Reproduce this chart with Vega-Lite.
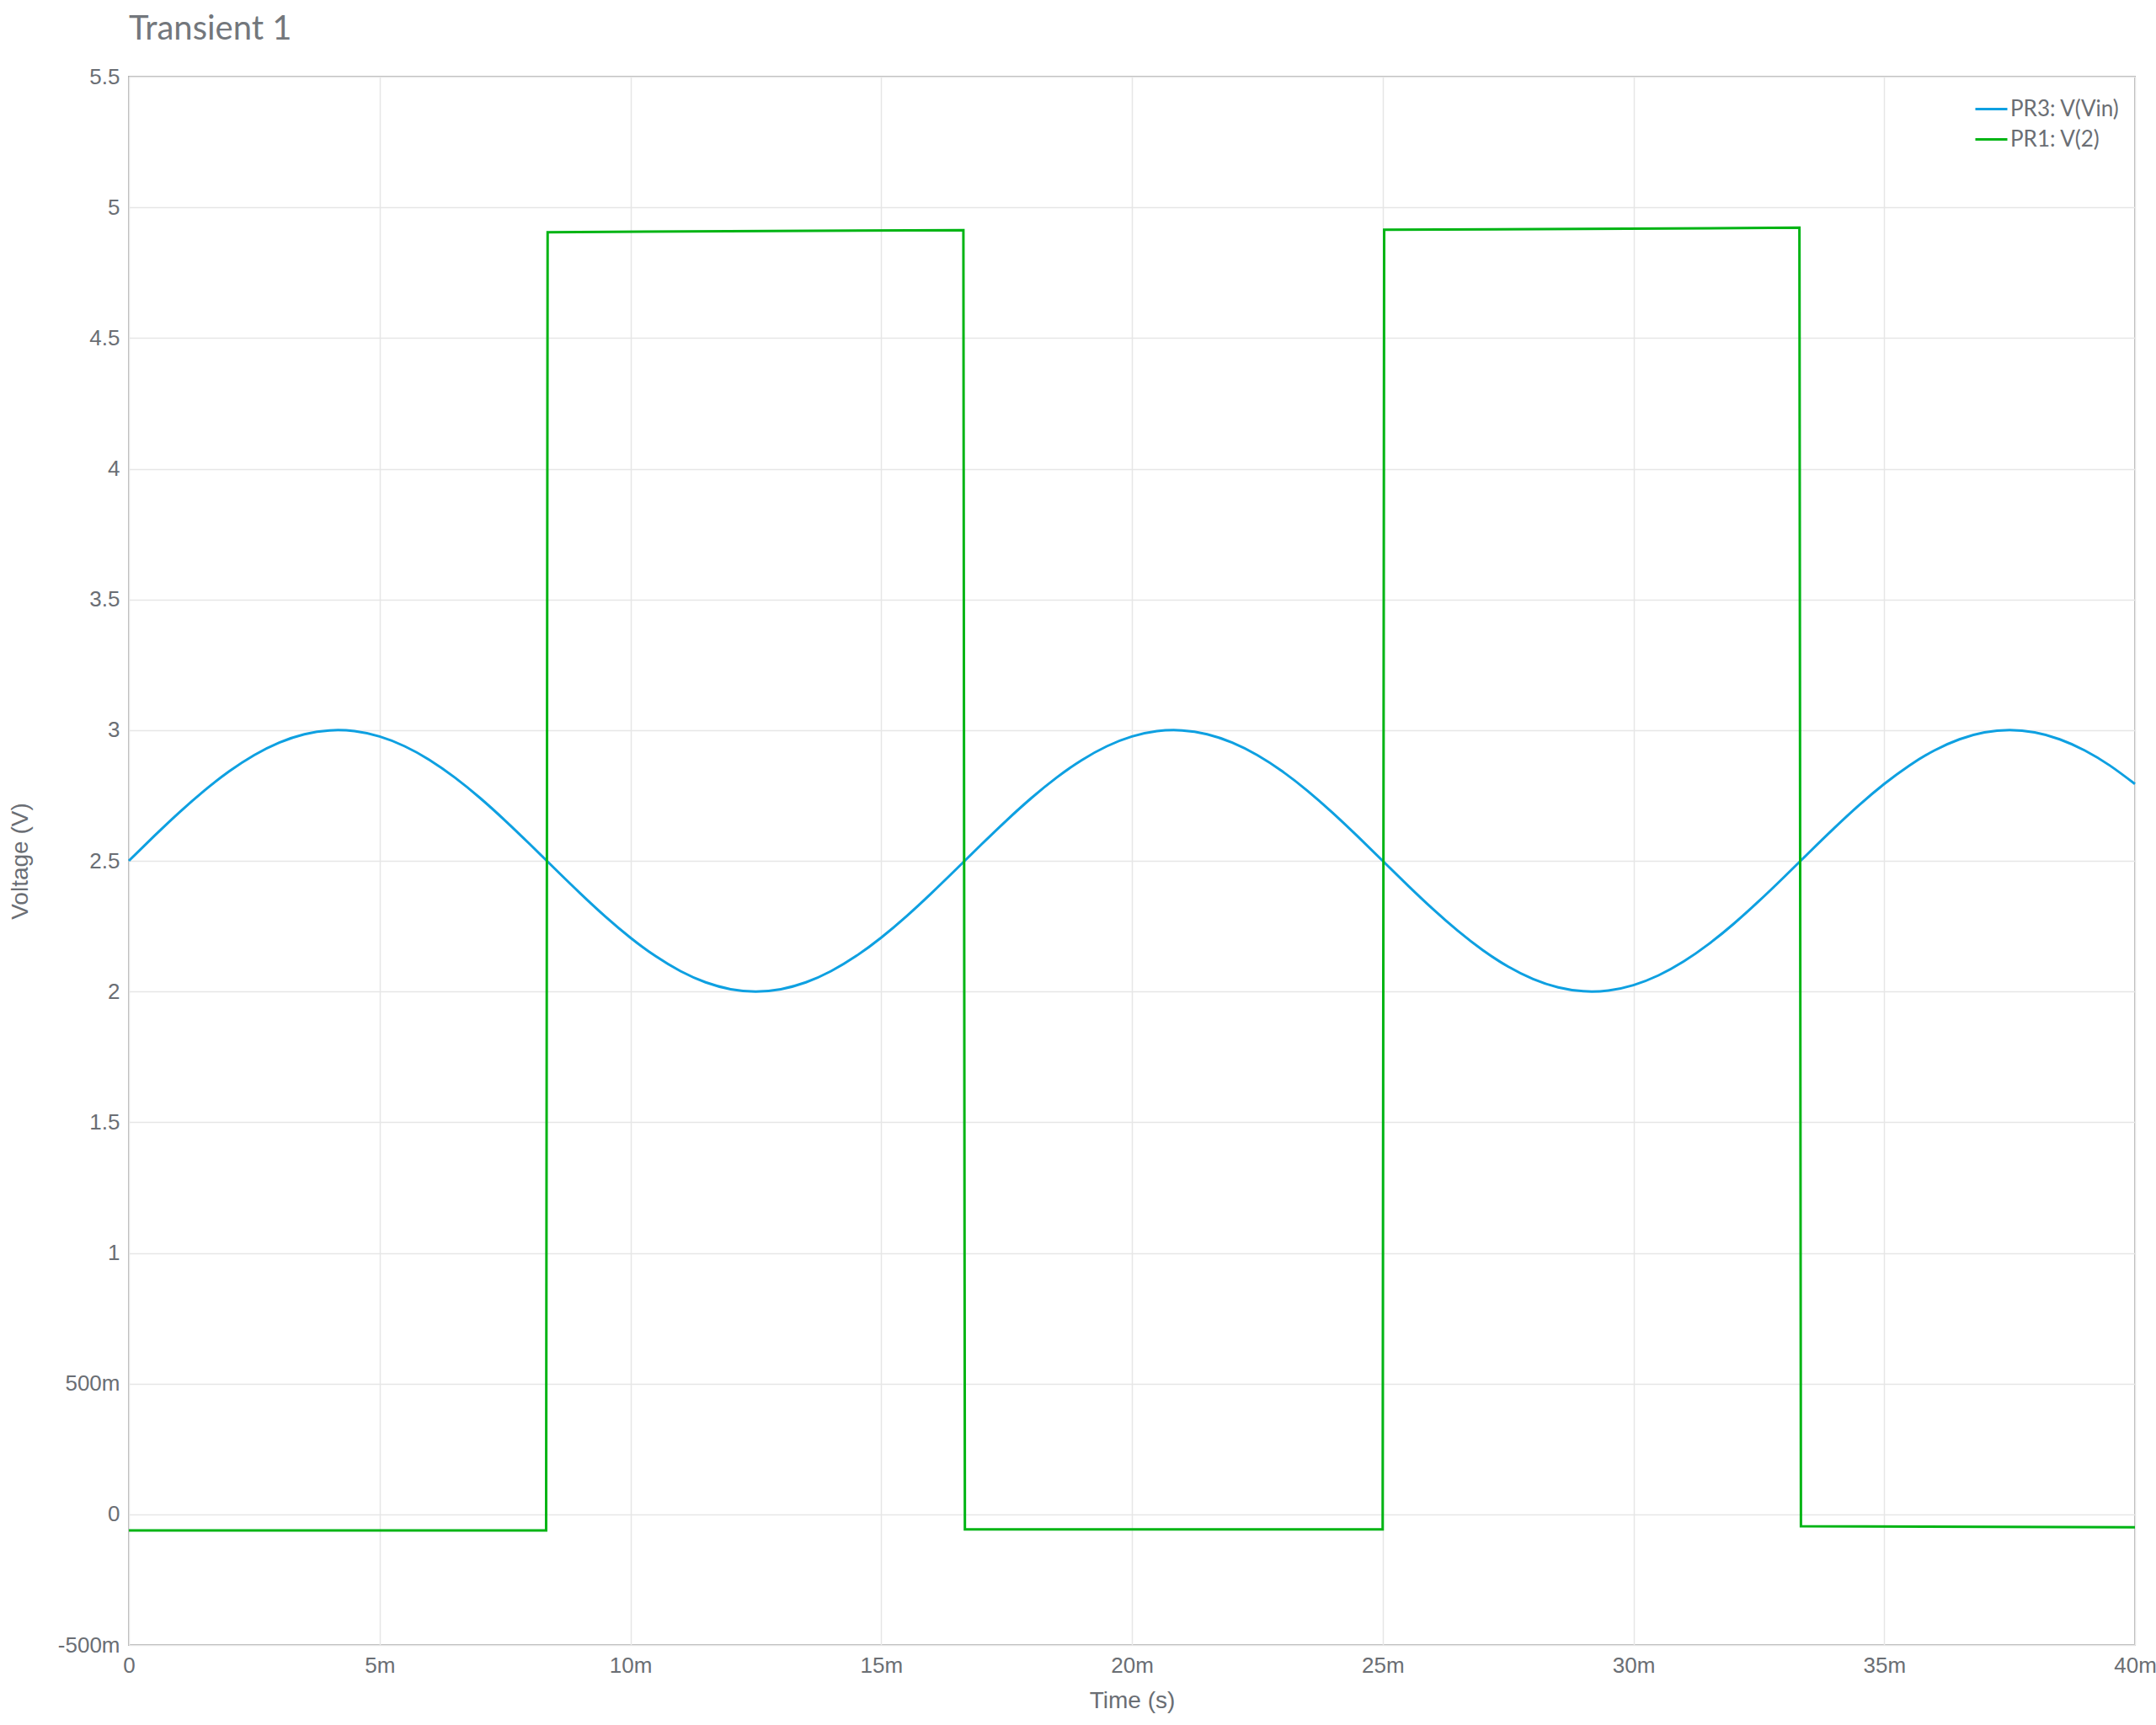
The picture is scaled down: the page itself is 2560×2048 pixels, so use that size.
{
  "$schema": "https://vega.github.io/schema/vega-lite/v6.json",
  "autosize": "none",
  "width": 2382,
  "height": 1862,
  "padding": {"left": 153, "top": 91, "right": 25, "bottom": 95},
  "background": "white",
  "title": {
    "text": "Transient 1",
    "anchor": "start",
    "frame": "group",
    "font": "Lato",
    "fontSize": 40,
    "fontWeight": "normal",
    "color": "#73777c",
    "baseline": "bottom",
    "offset": 0,
    "dy": 17
  },
  "config": {
    "view": {"stroke": "#b3b3b3", "strokeWidth": 2},
    "axis": {
      "domain": false,
      "ticks": false,
      "grid": true,
      "gridColor": "#e6e6e6",
      "gridWidth": 1.5,
      "labelFont": "Liberation Sans",
      "labelFontSize": 26,
      "labelColor": "#6a6e74",
      "titleFont": "Liberation Sans",
      "titleFontSize": 28,
      "titleFontWeight": "normal",
      "titleColor": "#6a6e74"
    },
    "legend": {
      "labelFont": "Lato",
      "labelFontSize": 26,
      "labelColor": "#6a6e74"
    }
  },
  "datasets": {
    "vin": [
      {"series": "PR3: V(Vin)", "t": 0, "v": 2.5},
      {"series": "PR3: V(Vin)", "t": 0.5, "v": 2.5937},
      {"series": "PR3: V(Vin)", "t": 1, "v": 2.6841},
      {"series": "PR3: V(Vin)", "t": 1.5, "v": 2.7679},
      {"series": "PR3: V(Vin)", "t": 2, "v": 2.8423},
      {"series": "PR3: V(Vin)", "t": 2.5, "v": 2.9045},
      {"series": "PR3: V(Vin)", "t": 3, "v": 2.9524},
      {"series": "PR3: V(Vin)", "t": 3.5, "v": 2.9843},
      {"series": "PR3: V(Vin)", "t": 4, "v": 2.999},
      {"series": "PR3: V(Vin)", "t": 4.5, "v": 2.9961},
      {"series": "PR3: V(Vin)", "t": 5, "v": 2.9755},
      {"series": "PR3: V(Vin)", "t": 5.5, "v": 2.9382},
      {"series": "PR3: V(Vin)", "t": 6, "v": 2.8853},
      {"series": "PR3: V(Vin)", "t": 6.5, "v": 2.8187},
      {"series": "PR3: V(Vin)", "t": 7, "v": 2.7409},
      {"series": "PR3: V(Vin)", "t": 7.5, "v": 2.6545},
      {"series": "PR3: V(Vin)", "t": 8, "v": 2.5627},
      {"series": "PR3: V(Vin)", "t": 8.5, "v": 2.4686},
      {"series": "PR3: V(Vin)", "t": 9, "v": 2.3757},
      {"series": "PR3: V(Vin)", "t": 9.5, "v": 2.2871},
      {"series": "PR3: V(Vin)", "t": 10, "v": 2.2061},
      {"series": "PR3: V(Vin)", "t": 10.5, "v": 2.1355},
      {"series": "PR3: V(Vin)", "t": 11, "v": 2.0778},
      {"series": "PR3: V(Vin)", "t": 11.5, "v": 2.0351},
      {"series": "PR3: V(Vin)", "t": 12, "v": 2.0089},
      {"series": "PR3: V(Vin)", "t": 12.5, "v": 2.0},
      {"series": "PR3: V(Vin)", "t": 13, "v": 2.0089},
      {"series": "PR3: V(Vin)", "t": 13.5, "v": 2.0351},
      {"series": "PR3: V(Vin)", "t": 14, "v": 2.0778},
      {"series": "PR3: V(Vin)", "t": 14.5, "v": 2.1355},
      {"series": "PR3: V(Vin)", "t": 15, "v": 2.2061},
      {"series": "PR3: V(Vin)", "t": 15.5, "v": 2.2871},
      {"series": "PR3: V(Vin)", "t": 16, "v": 2.3757},
      {"series": "PR3: V(Vin)", "t": 16.5, "v": 2.4686},
      {"series": "PR3: V(Vin)", "t": 17, "v": 2.5627},
      {"series": "PR3: V(Vin)", "t": 17.5, "v": 2.6545},
      {"series": "PR3: V(Vin)", "t": 18, "v": 2.7409},
      {"series": "PR3: V(Vin)", "t": 18.5, "v": 2.8187},
      {"series": "PR3: V(Vin)", "t": 19, "v": 2.8853},
      {"series": "PR3: V(Vin)", "t": 19.5, "v": 2.9382},
      {"series": "PR3: V(Vin)", "t": 20, "v": 2.9755},
      {"series": "PR3: V(Vin)", "t": 20.5, "v": 2.9961},
      {"series": "PR3: V(Vin)", "t": 21, "v": 2.999},
      {"series": "PR3: V(Vin)", "t": 21.5, "v": 2.9843},
      {"series": "PR3: V(Vin)", "t": 22, "v": 2.9524},
      {"series": "PR3: V(Vin)", "t": 22.5, "v": 2.9045},
      {"series": "PR3: V(Vin)", "t": 23, "v": 2.8423},
      {"series": "PR3: V(Vin)", "t": 23.5, "v": 2.7679},
      {"series": "PR3: V(Vin)", "t": 24, "v": 2.6841},
      {"series": "PR3: V(Vin)", "t": 24.5, "v": 2.5937},
      {"series": "PR3: V(Vin)", "t": 25, "v": 2.5},
      {"series": "PR3: V(Vin)", "t": 25.5, "v": 2.4063},
      {"series": "PR3: V(Vin)", "t": 26, "v": 2.3159},
      {"series": "PR3: V(Vin)", "t": 26.5, "v": 2.2321},
      {"series": "PR3: V(Vin)", "t": 27, "v": 2.1577},
      {"series": "PR3: V(Vin)", "t": 27.5, "v": 2.0955},
      {"series": "PR3: V(Vin)", "t": 28, "v": 2.0476},
      {"series": "PR3: V(Vin)", "t": 28.5, "v": 2.0157},
      {"series": "PR3: V(Vin)", "t": 29, "v": 2.001},
      {"series": "PR3: V(Vin)", "t": 29.5, "v": 2.0039},
      {"series": "PR3: V(Vin)", "t": 30, "v": 2.0245},
      {"series": "PR3: V(Vin)", "t": 30.5, "v": 2.0618},
      {"series": "PR3: V(Vin)", "t": 31, "v": 2.1147},
      {"series": "PR3: V(Vin)", "t": 31.5, "v": 2.1813},
      {"series": "PR3: V(Vin)", "t": 32, "v": 2.2591},
      {"series": "PR3: V(Vin)", "t": 32.5, "v": 2.3455},
      {"series": "PR3: V(Vin)", "t": 33, "v": 2.4373},
      {"series": "PR3: V(Vin)", "t": 33.5, "v": 2.5314},
      {"series": "PR3: V(Vin)", "t": 34, "v": 2.6243},
      {"series": "PR3: V(Vin)", "t": 34.5, "v": 2.7129},
      {"series": "PR3: V(Vin)", "t": 35, "v": 2.7939},
      {"series": "PR3: V(Vin)", "t": 35.5, "v": 2.8645},
      {"series": "PR3: V(Vin)", "t": 36, "v": 2.9222},
      {"series": "PR3: V(Vin)", "t": 36.5, "v": 2.9649},
      {"series": "PR3: V(Vin)", "t": 37, "v": 2.9911},
      {"series": "PR3: V(Vin)", "t": 37.5, "v": 3.0},
      {"series": "PR3: V(Vin)", "t": 38, "v": 2.9911},
      {"series": "PR3: V(Vin)", "t": 38.5, "v": 2.9649},
      {"series": "PR3: V(Vin)", "t": 39, "v": 2.9222},
      {"series": "PR3: V(Vin)", "t": 39.5, "v": 2.8645},
      {"series": "PR3: V(Vin)", "t": 40, "v": 2.7939}
    ],
    "v2": [
      {"series": "PR1: V(2)", "t": 0, "v": -0.062},
      {"series": "PR1: V(2)", "t": 8.32, "v": -0.062},
      {"series": "PR1: V(2)", "t": 8.35, "v": 4.905},
      {"series": "PR1: V(2)", "t": 16.64, "v": 4.913},
      {"series": "PR1: V(2)", "t": 16.67, "v": -0.058},
      {"series": "PR1: V(2)", "t": 25.0, "v": -0.058},
      {"series": "PR1: V(2)", "t": 25.03, "v": 4.914},
      {"series": "PR1: V(2)", "t": 33.31, "v": 4.922},
      {"series": "PR1: V(2)", "t": 33.34, "v": -0.046},
      {"series": "PR1: V(2)", "t": 40, "v": -0.05}
    ]
  },
  "encoding": {
    "x": {
      "field": "t",
      "type": "quantitative",
      "scale": {"domain": [0, 40], "nice": false, "zero": false},
      "axis": {
        "title": "Time (s)",
        "values": [0, 5, 10, 15, 20, 25, 30, 35, 40],
        "labelExpr": "datum.value == 0 ? '0' : datum.value + 'm'",
        "labelPadding": 11,
        "labelFlush": false,
        "titleX": 1191,
        "titleY": 66,
        "titleBaseline": "middle",
        "titleAlign": "center"
      }
    },
    "y": {
      "field": "v",
      "type": "quantitative",
      "scale": {"domain": [-0.5, 5.5], "nice": false, "zero": false},
      "axis": {
        "title": "Voltage (V)",
        "values": [-0.5, 0, 0.5, 1, 1.5, 2, 2.5, 3, 3.5, 4, 4.5, 5, 5.5],
        "labelExpr": "datum.value == 0 ? '0' : (datum.value == 0.5 ? '500m' : (datum.value == -0.5 ? '-500m' : '' + datum.value))",
        "labelPadding": 11,
        "labelFlush": false,
        "titleX": -129,
        "titleY": 931,
        "titleAngle": 270,
        "titleBaseline": "middle",
        "titleAlign": "center"
      }
    },
    "color": {
      "field": "series",
      "type": "nominal",
      "scale": {
        "domain": ["PR3: V(Vin)", "PR1: V(2)"],
        "range": ["#0ea0e1", "#00b414"]
      },
      "legend": {
        "title": null,
        "orient": "top-right",
        "offset": 18,
        "padding": 0,
        "symbolType": "stroke",
        "symbolSize": 1444,
        "symbolStrokeWidth": 3,
        "labelOffset": 2,
        "rowPadding": 2
      }
    }
  },
  "layer": [
    {
      "data": {"name": "vin"},
      "mark": {"type": "line", "strokeWidth": 3, "interpolate": "natural"}
    },
    {
      "data": {"name": "v2"},
      "mark": {"type": "line", "strokeWidth": 3}
    }
  ]
}
